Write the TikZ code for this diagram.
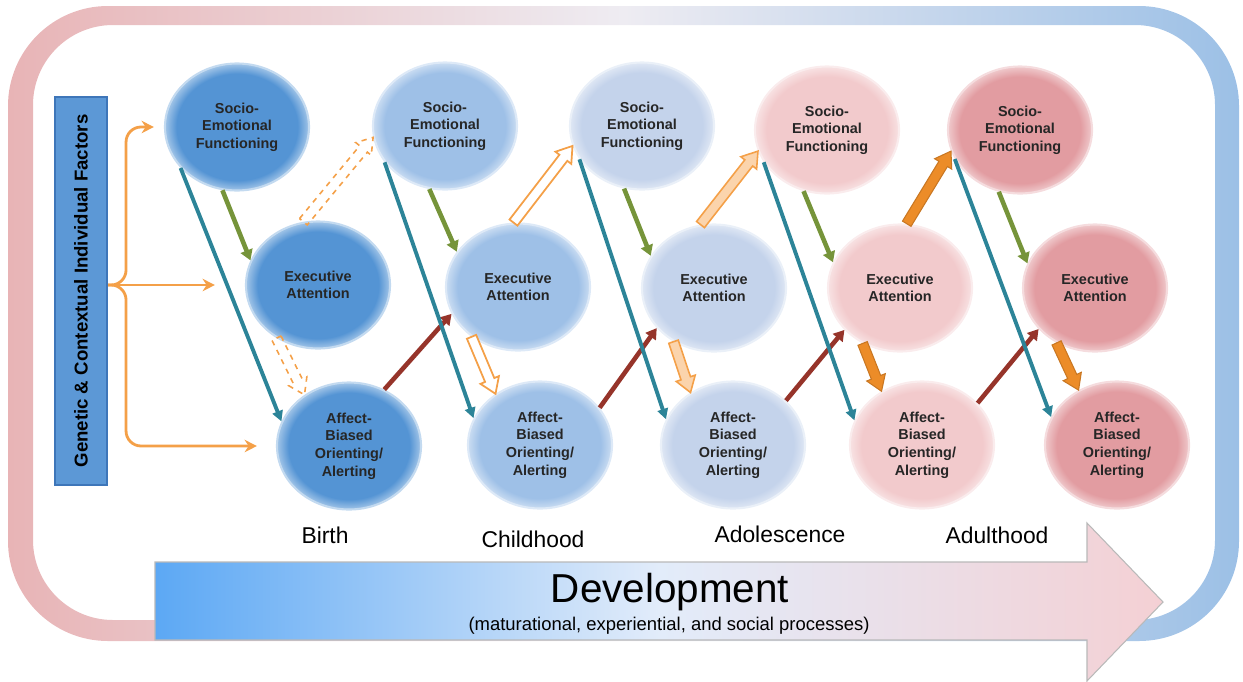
\documentclass[tikz,border=0pt]{standalone}
\usepackage{fontspec}
\setmainfont{Liberation Sans}
\usetikzlibrary{arrows.meta,calc,shapes.geometric}

\definecolor{framepink}{RGB}{232,180,182}
\definecolor{framemid}{RGB}{238,236,242}
\definecolor{frameblue}{RGB}{156,192,230}
\definecolor{factblue}{RGB}{92,152,214}
\definecolor{factedge}{RGB}{62,118,185}
\definecolor{birthblue}{RGB}{84,148,212}
\definecolor{childblue}{RGB}{158,192,231}
\definecolor{teenblue}{RGB}{196,211,235}
\definecolor{lightpink}{RGB}{242,202,204}
\definecolor{adultpink}{RGB}{226,156,161}
\definecolor{feedorange}{RGB}{244,160,72}
\definecolor{paleorange}{RGB}{251,212,172}
\definecolor{deeporange}{RGB}{236,140,40}
\definecolor{sefgreen}{RGB}{118,148,58}
\definecolor{eateal}{RGB}{44,132,152}
\definecolor{abred}{RGB}{150,52,42}
\definecolor{devblue}{RGB}{92,168,244}
\definecolor{devmid}{RGB}{226,236,250}
\definecolor{devpink}{RGB}{244,208,212}

% rim glow for the ellipses
\colorlet{elcore}{birthblue}
\colorlet{elrim}{white}
\pgfdeclareradialshading[elcore,elrim]{glow}{\pgfpoint{0bp}{0bp}}{%
  color(0bp)=(elcore); color(21bp)=(elcore); color(24.5bp)=(elrim); color(50bp)=(elrim)}

% wide arrow between two anchors: style, tail, tip
\newcommand\blockarrow[3]{%
  \coordinate (bt) at (#2);
  \coordinate (bh) at (#3);
  \coordinate (bb) at ($(bh)!0.3cm!(bt)$);
  \draw[#1] ($(bt)!0.1cm!90:(bh)$) -- ($(bb)!0.1cm!-90:(bt)$) -- ($(bb)!0.2cm!-90:(bt)$)
    -- (bh) -- ($(bb)!0.2cm!90:(bt)$) -- ($(bb)!0.1cm!90:(bt)$) -- ($(bt)!0.1cm!-90:(bh)$) -- cycle;
}

\begin{document}
\begin{tikzpicture}[
    stage/.style={ellipse,minimum width=2.88cm,minimum height=2.54cm,inner sep=0pt,align=center,
      font=\fontsize{8.2}{10}\selectfont\bfseries,text=black!85,
      /utils/exec={\colorlet{elcore}{#1}\colorlet{elrim}{#1!60!white}},shading=glow,
      draw=#1!35!white,line width=1.2pt},
    factor/.style={draw=factedge,fill=factblue,line width=1.2pt,minimum width=7.76cm,minimum height=1.04cm,
      font=\fontsize{10.6}{12}\selectfont\bfseries,inner sep=0pt},
    feed/.style={draw=feedorange,line width=1.6pt,rounded corners=0.3cm,-{Stealth[length=7pt,width=7pt]}},
    se2ea/.style={draw=sefgreen,line width=2.6pt,-{Triangle[length=6pt,width=7pt]}},
    se2ab/.style={draw=eateal,line width=2.2pt,-{Triangle[length=6pt,width=6pt]}},
    ab2ea/.style={draw=abred,line width=2.6pt,-{Triangle[length=6pt,width=7pt]}},
    dashblock/.style={draw=feedorange,line width=0.9pt,dashed},
    openblock/.style={draw=feedorange,fill=white,line width=1pt},
    paleblock/.style={draw=feedorange,fill=paleorange,line width=0.9pt},
    fullblock/.style={draw=deeporange!85!black,fill=deeporange,line width=0.6pt},
    period/.style={font=\fontsize{13}{15}\selectfont,anchor=base}
]
\useasboundingbox (0,0) rectangle (24.86,-13.62);

% outer frame
\shade[even odd rule,left color=framepink,right color=frameblue,middle color=framemid]
  [rounded corners=2cm] (0.16,-0.12) rectangle (24.78,-12.82)
  [rounded corners=1.6cm] (0.66,-0.50) rectangle (24.30,-12.40);

% factors bar
\node[factor,rotate=90] (fac) at (1.62,-5.82) {Genetic \& Contextual Individual Factors};

% Birth
\node[stage=birthblue] (se1) at (4.74,-2.54) {Socio-\\Emotional\\Functioning};
\node[stage=birthblue] (ea1) at (6.36,-5.70) {Executive\\Attention};
\node[stage=birthblue] (ab1) at (6.98,-8.92) {Affect-\\Biased\\Orienting/\\Alerting};

% Childhood
\node[stage=childblue] (se2) at (8.90,-2.52) {Socio-\\Emotional\\Functioning};
\node[stage=childblue] (ea2) at (10.36,-5.74) {Executive\\Attention};
\node[stage=childblue] (ab2) at (10.80,-8.90) {Affect-\\Biased\\Orienting/\\Alerting};

% Adolescence
\node[stage=teenblue] (se3) at (12.84,-2.52) {Socio-\\Emotional\\Functioning};
\node[stage=teenblue] (ea3) at (14.28,-5.76) {Executive\\Attention};
\node[stage=teenblue] (ab3) at (14.66,-8.90) {Affect-\\Biased\\Orienting/\\Alerting};

\node[stage=lightpink] (se4) at (16.54,-2.60) {Socio-\\Emotional\\Functioning};
\node[stage=lightpink] (ea4) at (18.00,-5.76) {Executive\\Attention};
\node[stage=lightpink] (ab4) at (18.44,-8.90) {Affect-\\Biased\\Orienting/\\Alerting};

% Adulthood
\node[stage=adultpink] (se5) at (20.40,-2.60) {Socio-\\Emotional\\Functioning};
\node[stage=adultpink] (ea5) at (21.90,-5.76) {Executive\\Attention};
\node[stage=adultpink] (ab5) at (22.34,-8.90) {Affect-\\Biased\\Orienting/\\Alerting};

% factor inputs
\draw[feed] (fac.south |- ea1.west) -- ++(0.36,0) |- ([xshift=-0.2cm]se1.west);
\draw[feed] (fac.south |- ea1.west) -- ([xshift=-0.6cm]ea1.west);
\draw[feed] (fac.south |- ea1.west) -- ++(0.36,0) |- ([xshift=-0.38cm]ab1.west);

% within-stage links
\draw[se2ea] (se1.257) -- (ea1.160);
\draw[se2ea] (se2.256) -- (ea2.150);
\draw[se2ea] (se3.254) -- (ea3.153);
\draw[se2ea] (se4.249) -- (ea4.159);
\draw[se2ea] (se5.251) -- (ea5.160);

\draw[ab2ea] (ab1.58) -- (ea2.202);
\draw[ab2ea] (ab2.32) -- (ea3.215);
\draw[ab2ea] (ab3.40) -- (ea4.217);
\draw[ab2ea] (ab4.37) -- (ea5.216);

\draw[se2ab] (se1.216) -- (ab1.160);
\draw[se2ab] (se2.211) -- (ab2.158);
\draw[se2ab] (se3.208) -- (ab3.159);
\draw[se2ab] (se4.207) -- (ab4.160);
\draw[se2ab] (se5.204) -- (ab5.157);

% executive attention outputs
\blockarrow{dashblock}{ea1.103}{se2.189}
\blockarrow{dashblock}{ea1.232}{ab1.131}
\blockarrow{openblock}{ea2.94}{se3.196}
\blockarrow{openblock}{ea2.227}{ab2.131}
\blockarrow{paleblock}{ea3.102}{se4.197}
\blockarrow{paleblock}{ea3.233}{ab3.129}
\blockarrow{fullblock}{ea4.84}{se5.197}
\blockarrow{fullblock}{ea4.236}{ab4.127}
\blockarrow{fullblock}{ea5.235}{ab5.125}

% periods
\node[period] (birth) at (6.50,-10.86) {Birth};
\node[period] (child) at (10.66,-10.94) {Childhood};
\node[period] (teen) at (15.60,-10.84) {Adolescence};
\node[period] (adult) at (19.94,-10.86) {Adulthood};

% development arrow
\shadedraw[left color=devblue,right color=devpink,middle color=devmid,draw=gray!55,line width=0.6pt]
  (3.10,-11.24) -- (21.74,-11.24) -- (21.74,-10.46) -- (23.26,-12.04) -- (21.74,-13.62)
  -- (21.74,-12.80) -- (3.10,-12.80) -- cycle;
\node[font=\fontsize{23}{26}\selectfont,anchor=base] (dev) at (13.40,-12.04) {Development};
\node[font=\fontsize{10.5}{12}\selectfont,anchor=base] (proc) at (13.38,-12.60) {(maturational, experiential, and social processes)};
\end{tikzpicture}
\end{document}
